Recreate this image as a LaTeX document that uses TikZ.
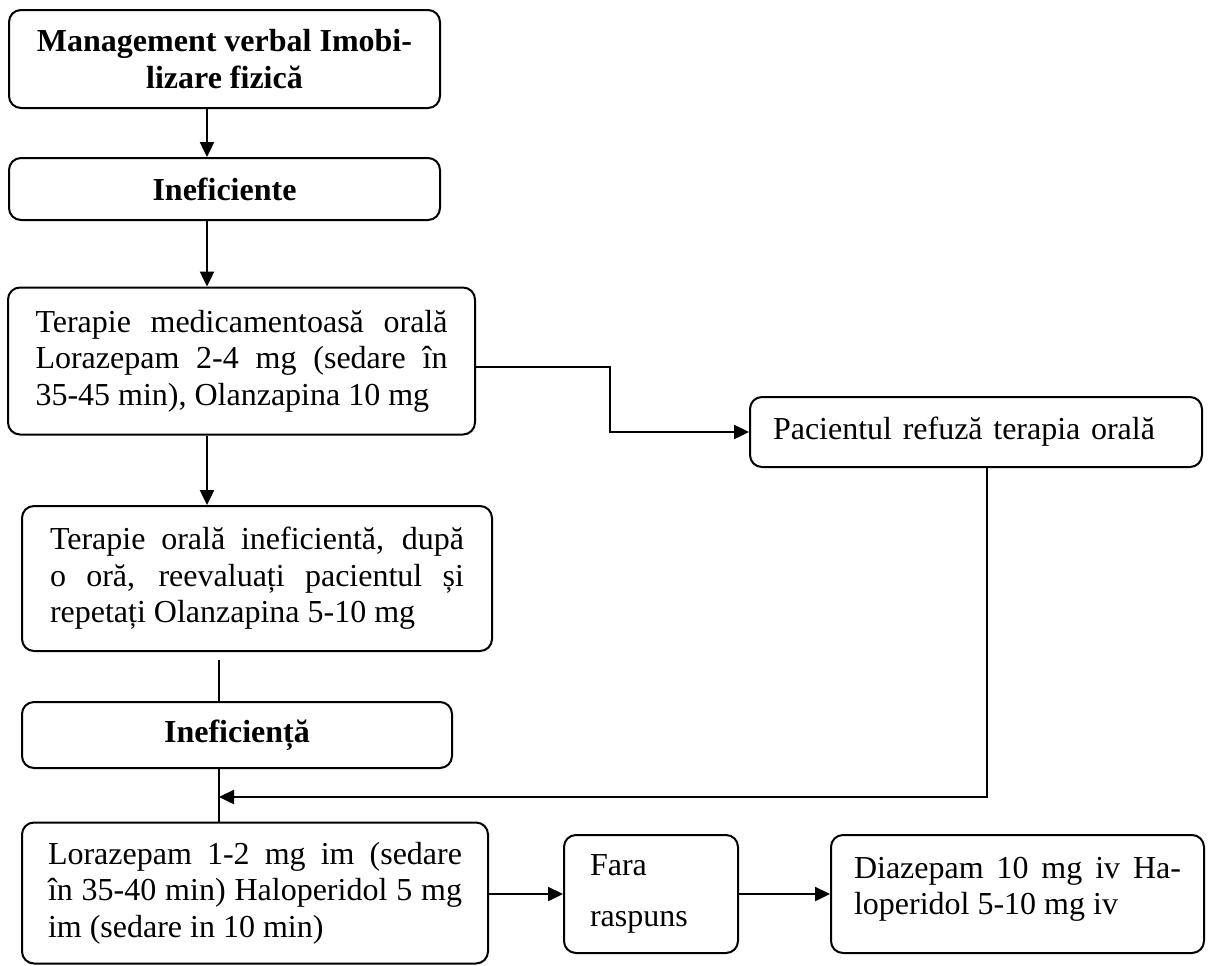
\documentclass[tikz,border=0pt]{standalone}
\usepackage{fontspec}
\setmainfont{Liberation Serif}
\usepackage{tikz}
\usetikzlibrary{arrows.meta, positioning, calc}
\tikzset{
    block/.style={
        rectangle,
        rounded corners=6pt,
        line width=1pt,
        draw=black,
        inner xsep=0pt,
        inner ysep=0pt,
        font=\fontsize{16}{18.25}\selectfont,
    },
    title/.style={
        block,
        font=\fontsize{16}{18.5}\selectfont\bfseries,
        align=center,
    },
    para/.style={
        block,
        align=justify,
    },
    link/.style={
        line width=1.2pt,
    },
    line/.style={
        line width=0.8pt,
    },
}

\begin{document}
\begin{tikzpicture}[x=0.5pt,y=-0.5pt,>={Triangle[length=7.5pt,width=7pt]}]
      \useasboundingbox (0,0) rectangle (1216,965);

      \node [title, minimum width=215.5pt, minimum height=49pt] (M) at (224.5,59) {Management verbal Imobi-\\lizare fizică};
      \node [title, minimum width=215.5pt, minimum height=31pt] (I1) at (224.5,189) {Ineficiente};

      \node [para, minimum width=233.5pt, minimum height=73.5pt, text width=206pt] (T) at (241.5,361)
        {Terapie medicamentoasă orală\linebreak Lorazepam 2-4 mg (sedare în\linebreak 35-45 min), Olanzapina 10 mg};
      \node [para, minimum width=235pt, minimum height=72.5pt, text width=207pt] (R) at (257,578.5)
        {Terapie orală ineficientă, după\linebreak o oră, reevaluați pacientul și\linebreak repetați Olanzapina 5-10 mg};

      \node [title, minimum width=215pt, minimum height=33pt] (I2) at (237,735) {Ineficiență};

      \node [para, minimum width=233pt, minimum height=70.5pt, text width=207pt] (L) at (255,893)
        {Lorazepam 1-2 mg im (sedare\linebreak în 35-40 min) Haloperidol 5 mg\linebreak im (sedare in 10 min)};

      \node [block, align=left, minimum width=226pt, minimum height=35pt, text width=203pt] (P) at (976,432)
        {Pacientul refuză terapia orală};

      \node [block, align=left, minimum width=87pt, minimum height=59pt, text width=61pt,
        font=\fontsize{16}{25.5}\selectfont] (F) at (651,894) {Fara\\raspuns};
      \node [para, inner xsep=11.5pt, text width=163.5pt, text height=21.5pt, text depth=37.5pt,
        anchor=base west] (D) at (830,878) {Diazepam 10 mg iv Ha-\linebreak loperidol 5-10 mg iv};

      \coordinate (col) at (207,0);
      \coordinate (elbow) at (610,367);
      \coordinate (gap) at (219,660);
      \coordinate (spine) at (219,797);
      \coordinate (back) at (987,797);

      \draw [link,->] (M.south -| col) -- (I1.north -| col);
      \draw [link,->] (I1.south -| col) -- (T.north -| col);
      \draw [link,->] (T.south -| col) -- (R.north -| col);

      \draw [link,->] (T.east |- elbow) -- (elbow) |- (P.west);

      \draw [line] (gap) -- (gap |- I2.north);
      \draw [line] (I2.south -| spine) -- (L.north -| spine);

      \draw [link,->] (P.south -| back) -- (back) -- (spine);

      \draw [link,->] (L.east |- F.west) -- (F.west);
      \draw [link,->] (F.east) -- (F.east -| D.west);

    \end{tikzpicture}
\end{document}
